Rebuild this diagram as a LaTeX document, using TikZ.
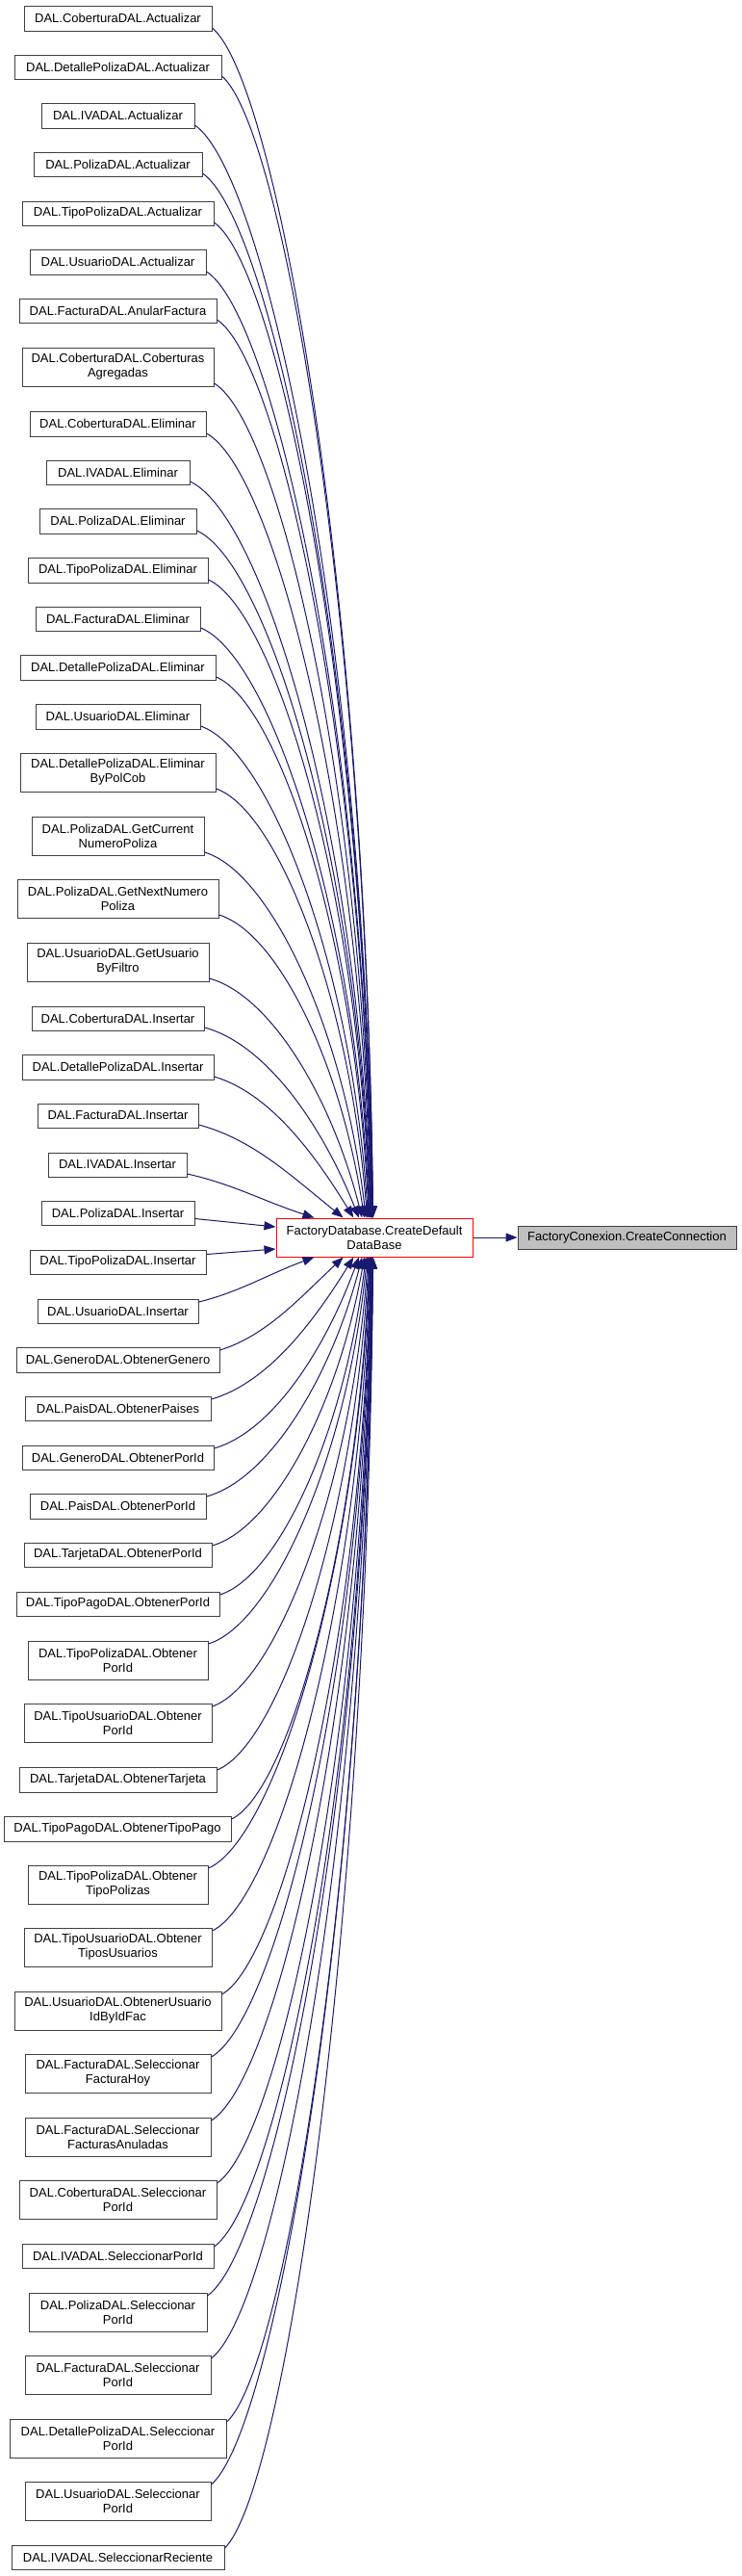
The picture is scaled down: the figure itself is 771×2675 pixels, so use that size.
\documentclass[tikz,border=0pt]{standalone}
\usepackage{fontspec}
\setmainfont{Liberation Sans}
\usetikzlibrary{arrows.meta,calc}
\definecolor{edgeblue}{HTML}{191970}
\definecolor{boxgray}{HTML}{404040}
\definecolor{fillgray}{HTML}{BFBFBF}
\begin{document}
\begin{tikzpicture}[x=1pt,y=-1pt,
  font=\fontsize{13}{15}\selectfont,
  caller/.style={draw=boxgray, line width=1pt, fill=white, inner sep=0pt, align=center, text=black},
  target/.style={draw=red, line width=1pt, fill=white, inner sep=0pt, align=center, text=black},
  current/.style={draw=boxgray, line width=1pt, fill=fillgray, inner sep=0pt, align=center, text=black},
  edge/.style={draw=edgeblue, line width=1pt, -{Triangle[length=12pt,width=9pt]}}]
\useasboundingbox (0,0) rectangle (771,2675);

\node[target, minimum width=204pt, minimum height=40pt] (c) at (389,1285) {FactoryDatabase.CreateDefault\\DataBase};
\node[current, minimum width=227pt, minimum height=24pt] (r) at (651.5,1285) {FactoryConexion.CreateConnection};
\draw[edge] (c.east) -- (r.west);

\foreach \i/\xl/\xr/\ya/\yb/\t in {
 1/25/220/6/32/{DAL.CoberturaDAL.Actualizar},
 2/15/230/57/82/{DAL.DetallePolizaDAL.Actualizar},
 3/43/202/107/133/{DAL.IVADAL.Actualizar},
 4/35/210/158/183/{DAL.PolizaDAL.Actualizar},
 5/23/222/209/234/{DAL.TipoPolizaDAL.Actualizar},
 6/31/214/259/285/{DAL.UsuarioDAL.Actualizar},
 7/20/225/310/335/{DAL.FacturaDAL.AnularFactura},
 8/23/222/361/401/{DAL.CoberturaDAL.Coberturas\\Agregadas},
 9/31/214/427/453/{DAL.CoberturaDAL.Eliminar},
 10/48/197/478/503/{DAL.IVADAL.Eliminar},
 11/41/204/528/554/{DAL.PolizaDAL.Eliminar},
 12/29/216/579/605/{DAL.TipoPolizaDAL.Eliminar},
 13/37/208/630/655/{DAL.FacturaDAL.Eliminar},
 14/21/224/680/706/{DAL.DetallePolizaDAL.Eliminar},
 15/37/208/731/757/{DAL.UsuarioDAL.Eliminar},
 16/21/224/782/822/{DAL.DetallePolizaDAL.Eliminar\\ByPolCob},
 17/33/212/848/888/{DAL.PolizaDAL.GetCurrent\\NumeroPoliza},
 18/18/227/913/953/{DAL.PolizaDAL.GetNextNumero\\Poliza},
 19/28/217/979/1019/{DAL.UsuarioDAL.GetUsuario\\ByFiltro},
 20/33/212/1045/1070/{DAL.CoberturaDAL.Insertar},
 21/23/222/1095/1121/{DAL.DetallePolizaDAL.Insertar},
 22/39/206/1146/1171/{DAL.FacturaDAL.Insertar},
 23/50/194/1197/1222/{DAL.IVADAL.Insertar},
 24/43/202/1247/1272/{DAL.PolizaDAL.Insertar},
 25/31/214/1298/1323/{DAL.TipoPolizaDAL.Insertar},
 26/39/206/1349/1374/{DAL.UsuarioDAL.Insertar},
 27/17/228/1399/1425/{DAL.GeneroDAL.ObtenerGenero},
 28/26/219/1450/1475/{DAL.PaisDAL.ObtenerPaises},
 29/23/222/1501/1526/{DAL.GeneroDAL.ObtenerPorId},
 30/31/214/1551/1577/{DAL.PaisDAL.ObtenerPorId},
 31/25/220/1602/1627/{DAL.TarjetaDAL.ObtenerPorId},
 32/17/228/1653/1678/{DAL.TipoPagoDAL.ObtenerPorId},
 33/29/216/1704/1744/{DAL.TipoPolizaDAL.Obtener\\PorId},
 34/25/220/1769/1809/{DAL.TipoUsuarioDAL.Obtener\\PorId},
 35/20/225/1835/1861/{DAL.TarjetaDAL.ObtenerTarjeta},
 36/4/240/1886/1912/{DAL.TipoPagoDAL.ObtenerTipoPago},
 37/29/216/1937/1977/{DAL.TipoPolizaDAL.Obtener\\TipoPolizas},
 38/25/220/2002/2042/{DAL.TipoUsuarioDAL.Obtener\\TiposUsuarios},
 39/15/230/2068/2108/{DAL.UsuarioDAL.ObtenerUsuario\\IdByIdFac},
 40/26/219/2133/2173/{DAL.FacturaDAL.Seleccionar\\FacturaHoy},
 41/26/219/2199/2239/{DAL.FacturaDAL.Seleccionar\\FacturasAnuladas},
 42/20/225/2264/2304/{DAL.CoberturaDAL.Seleccionar\\PorId},
 43/23/222/2330/2355/{DAL.IVADAL.SeleccionarPorId},
 44/30/215/2381/2421/{DAL.PolizaDAL.Seleccionar\\PorId},
 45/26/219/2446/2486/{DAL.FacturaDAL.Seleccionar\\PorId},
 46/10/235/2512/2552/{DAL.DetallePolizaDAL.Seleccionar\\PorId},
 47/26/219/2577/2617/{DAL.UsuarioDAL.Seleccionar\\PorId},
 48/12/233/2643/2668/{DAL.IVADAL.SeleccionarReciente}}{
  \pgfmathsetmacro\w{\xr-\xl}
  \pgfmathsetmacro\h{\yb-\ya}
  \node[caller, minimum width=\w pt, minimum height=\h pt] (n\i) at ({(\xl+\xr)/2},{(\ya+\yb)/2}) {\t};
  \pgfmathsetmacro\sh{(\yb-\ya)/2-3}
  \ifnum\i<24
    \pgfmathsetmacro\k{24-\i}
    \pgfmathsetmacro\xt{392-65/(\k^0.9)}
    \pgfmathsetmacro\sy{\yb-3}
    \pgfmathsetmacro\dy{1265-\sy}
    \pgfmathsetmacro\wt{exp(-\dy/100)}
    \pgfmathsetmacro\g{60/(\dy+60)}
    \pgfmathsetmacro\ax{(1-\wt)*(\xr+0.4*(\xt-\xr))+\wt*(\xr+(\xt-\xr)/3)}
    \pgfmathsetmacro\ay{(1-\wt)*(\sy+0.045*\dy)+\wt*(\sy+\dy/3)}
    \pgfmathsetmacro\bx{(1-\wt)*(\xt-\g*(\xt-\xr))+\wt*(\xr+2*(\xt-\xr)/3)}
    \pgfmathsetmacro\by{(1-\wt)*(1265-0.53*\dy)+\wt*(\sy+2*\dy/3)}
    \pgfmathsetmacro\xo{\xt-287}
    \draw[edge] ([yshift=-\sh pt]n\i.east) .. controls (\ax,\ay) and (\bx,\by) .. ([xshift=\xo pt]c.north west);
  \fi
  \ifnum\i>25
    \pgfmathsetmacro\k{\i-25}
    \pgfmathsetmacro\xt{392-65/(\k^0.9)}
    \pgfmathsetmacro\sy{\ya+3}
    \pgfmathsetmacro\dy{\sy-1305}
    \pgfmathsetmacro\wt{exp(-\dy/100)}
    \pgfmathsetmacro\g{60/(\dy+60)}
    \pgfmathsetmacro\ax{(1-\wt)*(\xr+0.4*(\xt-\xr))+\wt*(\xr+(\xt-\xr)/3)}
    \pgfmathsetmacro\ay{(1-\wt)*(\sy-0.045*\dy)+\wt*(\sy-\dy/3)}
    \pgfmathsetmacro\bx{(1-\wt)*(\xt-\g*(\xt-\xr))+\wt*(\xr+2*(\xt-\xr)/3)}
    \pgfmathsetmacro\by{(1-\wt)*(1305+0.53*\dy)+\wt*(\sy-2*\dy/3)}
    \pgfmathsetmacro\xo{\xt-287}
    \draw[edge] ([yshift=\sh pt]n\i.east) .. controls (\ax,\ay) and (\bx,\by) .. ([xshift=\xo pt]c.south west);
  \fi
}
\draw[edge] ([yshift=-6pt]n24.east) -- ([yshift=11pt]c.west);
\draw[edge] ([yshift=8pt]n25.east) -- ([yshift=-12pt]c.west);
\end{tikzpicture}
\end{document}
